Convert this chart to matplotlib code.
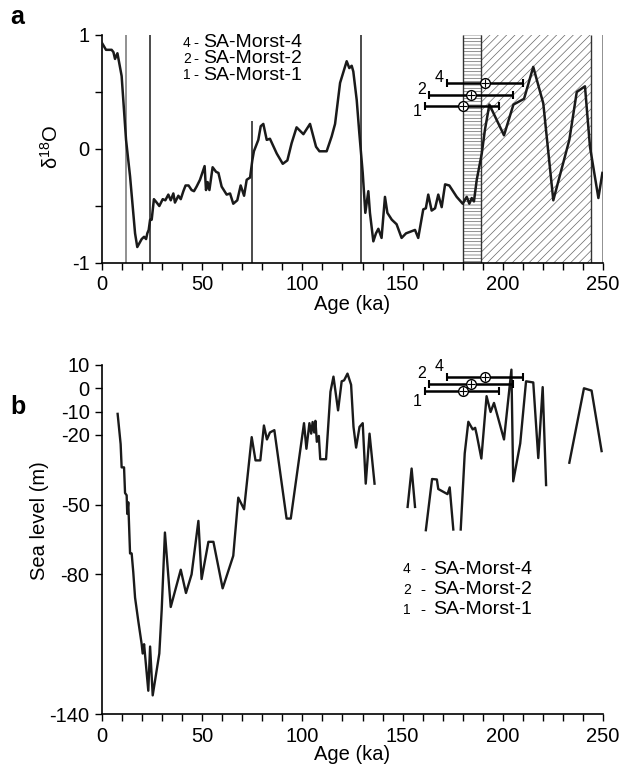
import numpy as np
import matplotlib
matplotlib.use("Agg")
import matplotlib.pyplot as plt

plt.rcParams["font.family"] = ["Liberation Sans", "DejaVu Sans"]
plt.rcParams["axes.unicode_minus"] = False
plt.rcParams["mathtext.fontset"] = "custom"
plt.rcParams["mathtext.rm"] = "Liberation Sans"
plt.rcParams["mathtext.default"] = "regular"
plt.rcParams["hatch.linewidth"] = 0.5

# panel a: d18O record
age_a = [0, 2, 4.8, 5.7, 6.5, 7.7, 9.8, 12.0, 14.0, 16.5, 17.6, 19.8, 21.0, 22.0, 22.6,
         23.3, 24.0, 24.8, 25.9, 27.3, 28.6, 30.3, 31.6, 33.1, 34.3, 35.6, 36.4, 38.1,
         39.3, 40.6, 41.7, 43.2, 44.7, 45.9, 47.2, 48.9, 51.2, 51.9, 52.7, 53.6, 55.2,
         56.9, 58.1, 59.7, 62.2, 63.9, 65.5, 67.5, 69.2, 70.9, 72.2, 73.9, 75.0, 75.8,
         78.0, 79.2, 80.5, 82.2, 83.8, 87.2, 90.2, 92.5, 94.6, 97.1, 100.5, 103.8, 106.8,
         108.5, 112.1, 114.6, 116.3, 118.8, 122.1, 123.4, 124.6, 125.4, 127.1, 128.4,
         130.1, 131.4, 132.9, 133.7, 135.4, 136.7, 137.9, 139.5, 141.2, 142.4, 144.6,
         147.0, 149.5, 151.7, 156.2, 157.8, 160.3, 161.6, 162.8, 164.5, 166.2, 167.8,
         169.5, 171.2, 173.3, 177.0, 180.0, 182.0, 183.3, 184.5, 185.6, 187.0, 189.5,
         191.1, 193.3, 200.6, 205.3, 210.6, 215.2, 220.2, 225.2, 233.2, 236.9, 241.0,
         243.5, 247.7, 249.7]
d18o = [0.93, 0.87, 0.87, 0.85, 0.79, 0.84, 0.64, 0.08, -0.24, -0.74, -0.86, -0.79, -0.77,
        -0.79, -0.74, -0.71, -0.62, -0.62, -0.44, -0.47, -0.50, -0.44, -0.45, -0.40, -0.45,
        -0.39, -0.47, -0.41, -0.44, -0.37, -0.32, -0.32, -0.36, -0.37, -0.33, -0.27, -0.15,
        -0.36, -0.29, -0.36, -0.16, -0.20, -0.21, -0.33, -0.40, -0.39, -0.48, -0.45, -0.32,
        -0.41, -0.27, -0.25, -0.10, -0.02, 0.08, 0.20, 0.22, 0.08, 0.09, -0.04, -0.13,
        -0.10, 0.05, 0.19, 0.13, 0.22, 0.02, -0.02, -0.02, 0.11, 0.22, 0.58, 0.77, 0.71,
        0.73, 0.68, 0.43, 0.14, -0.21, -0.56, -0.37, -0.56, -0.81, -0.74, -0.70, -0.78,
        -0.42, -0.56, -0.62, -0.66, -0.78, -0.74, -0.71, -0.78, -0.53, -0.52, -0.40, -0.54,
        -0.52, -0.40, -0.51, -0.31, -0.32, -0.42, -0.48, -0.42, -0.48, -0.43, -0.46, -0.27,
        -0.04, 0.17, 0.39, 0.12, 0.39, 0.44, 0.72, 0.40, -0.45, 0.08, 0.50, 0.55, 0.02,
        -0.43, -0.21]

# boundaries in panel a
bound_ages = [12, 24, 75, 129, 250]
bound_tops = [1, 1, 0.25, 1, 1]
bound_colors = ["0.45", "0.1", "0.1", "0.1", "0.45"]
hband = (180, 189)
dband = (189, 244)

# panel b: sea level (nan = gap)
nan = np.nan
age_b = [7.8, 9.3, 9.8, 11.0, 11.5, 12.3, 12.6, 13.1, 14.0, 14.8, 15.6, 16.5, 18.1, 19.8,
         20.3, 21.0, 23.1, 24.0, 25.3, 28.6, 29.8, 31.4, 34.3, 39.3, 41.9, 44.7, 48.1,
         49.7, 53.1, 55.6, 60.2, 65.5, 68.0, 70.9, 74.7, 76.6, 79.0, 80.8, 82.3, 83.8,
         86.0, 92.1, 94.2, 100.8, 102.0, 103.5, 104.4, 105.1, 105.9, 106.5, 107.2, 108.2,
         108.9, 111.8, 114.0, 115.5, 117.8, 119.6, 120.8, 122.5, 124.3, 125.5, 126.8,
         128.5, 130.1, 131.6, 133.5, 136.0, nan, 152.5, 154.5, 156.2, nan, 161.6, 164.7,
         167.1, 167.8, 172.4, 173.5, 175.3, nan, 179.0, 181.0, 182.8, 185.0, 186.2, 187.0,
         189.3, 191.9, 193.9, 195.6, 200.6, 204.3, 205.2, 208.7, 211.6, 215.2, 217.7,
         219.9, 221.6, nan, 233.2, 240.5, 244.3, 249.3]
sea = [-11, -24, -34, -34, -45, -46, -54, -49, -71, -71, -79, -90, -100, -110, -114, -110,
       -130, -111, -132, -114, -95, -62, -94, -78, -88, -80, -57, -82, -66, -66, -86, -72,
       -47, -52, -21, -31, -31, -16, -22, -19, -18, -56, -56, -15, -26, -15, -19.5, -14.5,
       -19, -14, -23, -20.5, -30.5, -30.5, -1.5, 5, -9.5, 3, 3.4, 6.3, 1.5, -16.6, -25.5,
       -16.6, -15, -41, -19.5, -41, nan, -51, -34.5, -51, nan, -61, -39, -39.2, -43.3,
       -45.5, -42.6, -60.7, nan, -60.7, -28, -14.4, -17.7, -17, -20, -30.2, -3.4, -10.2,
       -6.3, -22, 8, -40, -23.7, 3, 2.5, -30, 0.5, -41.6, nan, -32, 0, -1, -27]

# dated samples
samples = ["4", "2", "1"]
names = ["SA-Morst-4", "SA-Morst-2", "SA-Morst-1"]
s_age = [191, 184, 180]
s_lo = [172, 163, 161]
s_hi = [210, 205, 198]
s_y_a = [0.58, 0.47, 0.38]
s_y_b = [5, 2, -1]

fig = plt.figure(figsize=(6.3, 7.71), dpi=100)
axa = fig.add_axes([102 / 630, 1 - 263 / 771, 501 / 630, 228 / 771])
axb = fig.add_axes([102 / 630, 1 - 714 / 771, 501 / 630, 349 / 771])


def style_axes(ax):
    for side in ["top", "right"]:
        ax.spines[side].set_visible(False)
    for side in ["left", "bottom"]:
        ax.spines[side].set_linewidth(1.2)
    ax.set_xlim(0, 250)
    ax.set_xticks(range(0, 251, 50))
    ax.set_xticks(range(0, 251, 10), minor=True)
    ax.tick_params(which="both", direction="out", length=5, width=1, labelsize=14.5, pad=4)
    ax.set_xlabel("Age (ka)", fontsize=14.5, labelpad=0)


def draw_samples(ax, ys, dy):
    for lab, c, lo, hi, y in zip(samples, s_age, s_lo, s_hi, ys):
        ax.errorbar(c, y, xerr=[[c - lo], [hi - c]], fmt="none", ecolor="k",
                    elinewidth=1.8, capsize=3, capthick=1.5, zorder=5)
        ax.plot(c, y, "o", mfc="white", mec="k", ms=7, mew=1, zorder=6)
        ax.plot(c, y, "+", color="k", ms=6, mew=0.8, zorder=7)
        off = -dy if lab == "1" else dy
        ax.text(lo - 1.5, y + off, lab, fontsize=11.5, ha="right", va="center")


# panel a
style_axes(axa)
axa.set_ylim(-1, 1)
axa.set_yticks([-1, 0, 1])
axa.set_yticks([-0.5, 0.5], minor=True)
axa.axvspan(*hband, facecolor="white", edgecolor="0.4", hatch="-----", lw=0, zorder=0.5)
axa.axvspan(*dband, facecolor="white", edgecolor="0.4", hatch="////", lw=0, zorder=0.5)
for x in [hband[0], dband[0], dband[1]]:
    axa.vlines(x, -1, 1, color="0.2", lw=1, zorder=1)
for x, top, col in zip(bound_ages, bound_tops, bound_colors):
    axa.vlines(x, -1, top, color=col, lw=1.1, zorder=1)
axa.plot(age_a, d18o, color="#1a1a1a", lw=1.8, zorder=3)
draw_samples(axa, s_y_a, 0.05)

leg_y_a = [0.93, 0.79, 0.645]
for lab, name, y in zip(samples, names, leg_y_a):
    axa.text(40.3, y, lab, fontsize=10, va="center")
    axa.text(45.5, y, "-", fontsize=11, va="center")
    axa.text(50.4, y, name, fontsize=14, va="center")

axa.set_ylabel("δ$^{18}$O", fontsize=14.5)
axa.yaxis.set_label_coords(-0.08, 0.51)
fig.text(10 / 630, 1 - 17 / 771, "a", fontsize=18, fontweight="bold", va="center")

# panel b
style_axes(axb)
axb.set_ylim(-140, 10)
axb.set_yticks([10, 0, -10, -20, -50, -80, -140])
axb.plot(age_b, sea, color="#1a1a1a", lw=1.7, zorder=3)
draw_samples(axb, s_y_b, 4.5)

leg_y_b = [-77.8, -86.7, -95.3]
for lab, name, y in zip(samples, names, leg_y_b):
    axb.text(150.2, y, lab, fontsize=10, va="center")
    axb.text(158.8, y, "-", fontsize=11, va="center")
    axb.text(165.2, y, name, fontsize=14, va="center")

axb.set_ylabel("Sea level (m)", fontsize=14.5)
axb.yaxis.set_label_coords(-0.105, 0.553)
fig.text(10 / 630, 1 - 407 / 771, "b", fontsize=18, fontweight="bold", va="center")

fig.savefig("out.png", dpi=100)
